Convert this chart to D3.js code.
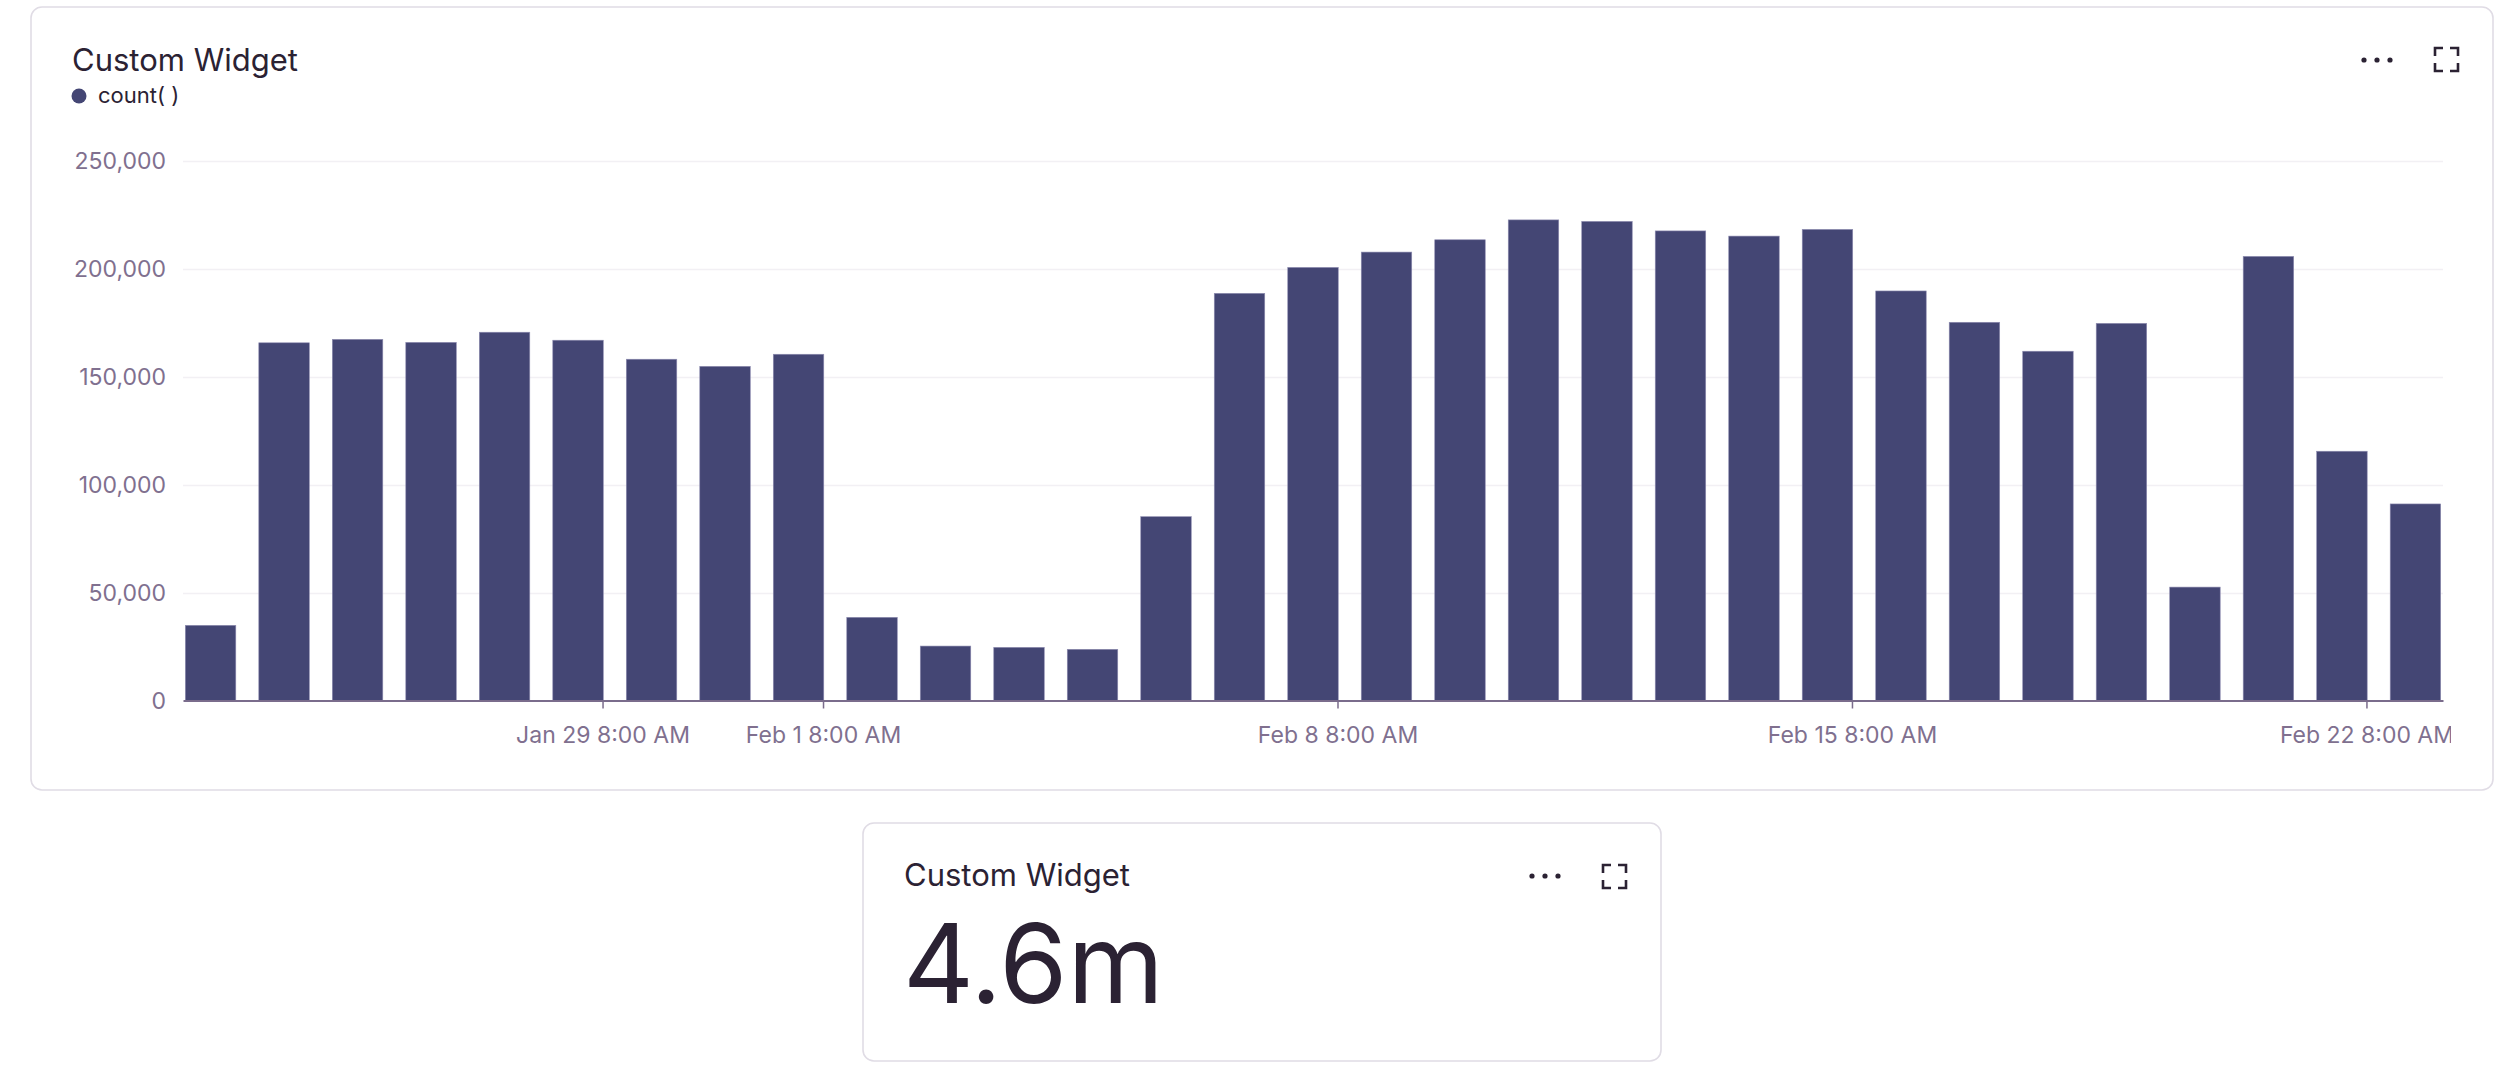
<!DOCTYPE html>
<html>
<head>
<meta charset="utf-8">
<script src="https://cdn.jsdelivr.net/npm/d3@7"></script>
<style>
  html, body { margin: 0; padding: 0; background: #ffffff; }
  svg { display: block; }
  text { font-family: Inter, "Open Sans", "DejaVu Sans", sans-serif; }
</style>
</head>
<body>
<svg id="chart" width="2518" height="1088"></svg>
<script>
// ---- data ----
const dates = [
  "2024-01-24","2024-01-25","2024-01-26","2024-01-27","2024-01-28","2024-01-29",
  "2024-01-30","2024-01-31","2024-02-01","2024-02-02","2024-02-03","2024-02-04",
  "2024-02-05","2024-02-06","2024-02-07","2024-02-08","2024-02-09","2024-02-10",
  "2024-02-11","2024-02-12","2024-02-13","2024-02-14","2024-02-15","2024-02-16",
  "2024-02-17","2024-02-18","2024-02-19","2024-02-20","2024-02-21","2024-02-22",
  "2024-02-23"
];
const counts = [
  34800, 165600, 167200, 165800, 170500, 166800, 158000, 154700, 160300,
  38500, 25200, 24600, 23700, 85100,
  188500, 200500, 207600, 213300, 222500, 221800, 217400, 215000, 218100,
  189600, 175100, 161700, 174600, 52500, 205600, 115400, 91000
];
const xTickValues = [
  "2024-01-29T08:00:00Z","2024-02-01T08:00:00Z","2024-02-08T08:00:00Z",
  "2024-02-15T08:00:00Z","2024-02-22T08:00:00Z"
];
const yTickValues = [0, 50000, 100000, 150000, 200000, 250000];
const seriesName = "count( )";
const widgetTitle = "Custom Widget";

// ---- styles ----
const barColor = "#444674";
const axisText = "#80708F";
const darkText = "#2B2233";
const borderColor = "#E0DCE5";

const svg = d3.select("#chart");

// ---- cards ----
function card(x, y, w, h) {
  svg.append("rect").attr("x", x).attr("y", y).attr("width", w).attr("height", h)
    .attr("rx", 11).attr("fill", "#fff").attr("stroke", borderColor).attr("stroke-width", 1.6);
}
function icons(dotsCx, cy, expandX, expandY) {
  const g = svg.append("g").attr("fill", darkText);
  [-13, 0, 13].forEach(dx => g.append("circle").attr("cx", dotsCx + dx).attr("cy", cy).attr("r", 2.6));
  const s = 23, a = 8;
  const p = d3.path();
  p.moveTo(expandX, expandY + a); p.lineTo(expandX, expandY); p.lineTo(expandX + a, expandY);
  p.moveTo(expandX + s - a, expandY); p.lineTo(expandX + s, expandY); p.lineTo(expandX + s, expandY + a);
  p.moveTo(expandX + s, expandY + s - a); p.lineTo(expandX + s, expandY + s); p.lineTo(expandX + s - a, expandY + s);
  p.moveTo(expandX + a, expandY + s); p.lineTo(expandX, expandY + s); p.lineTo(expandX, expandY + s - a);
  svg.append("path").attr("d", p.toString()).attr("fill", "none")
    .attr("stroke", darkText).attr("stroke-width", 2.6);
}

card(31, 7, 2462, 783);
card(863, 823, 798, 238);

// card 1 header
svg.append("text").attr("x", 72).attr("y", 71).attr("font-size", 31)
  .attr("fill", darkText).text(widgetTitle);
svg.append("circle").attr("cx", 79).attr("cy", 96).attr("r", 7.5).attr("fill", barColor);
svg.append("text").attr("x", 98).attr("y", 103).attr("font-size", 22)
  .attr("fill", darkText).text(seriesName);
icons(2377, 60, 2435, 48);

// ---- chart ----
const parseDay = d3.utcParse("%Y-%m-%d");
const data = dates.map((d, i) => ({ date: parseDay(d), value: counts[i] }));
const day = 864e5;
const x = d3.scaleUtc()
  .domain([new Date(+data[0].date - 0.375 * day), new Date(+data[data.length - 1].date + 0.375 * day)])
  .range([183, 2443]);
const y = d3.scaleLinear().domain([0, 250000]).range([700.5, 160.5]);
const barW = (x(new Date(+data[0].date + day)) - x(data[0].date)) * 0.687;

// gridlines
svg.append("g").selectAll("line").data(yTickValues.filter(v => v > 0)).join("line")
  .attr("x1", x.range()[0]).attr("x2", x.range()[1])
  .attr("y1", d => Math.round(y(d)) + 0.5).attr("y2", d => Math.round(y(d)) + 0.5)
  .attr("stroke", "#F2F0F4").attr("stroke-width", 1.5);

// y labels
svg.append("g").selectAll("text").data(yTickValues).join("text")
  .attr("x", 166).attr("y", d => y(d)).attr("dy", "0.36em")
  .attr("text-anchor", "end").attr("font-size", 23).attr("fill", axisText)
  .text(d => d3.format(",")(d));

// bars
svg.append("g").selectAll("rect").data(data).join("rect")
  .attr("x", d => x(d.date) - barW / 2)
  .attr("y", d => y(d.value))
  .attr("width", barW)
  .attr("height", d => y(0) - y(d.value))
  .attr("fill", barColor)
  .attr("stroke", "#8E8CB0").attr("stroke-width", 0.6);

// x axis (clip in the group's own translated coordinates)
svg.append("defs").append("clipPath").attr("id", "xclip")
  .append("rect").attr("x", 0).attr("y", -10).attr("width", 2451).attr("height", 80);
const xAxis = d3.axisBottom(x)
  .tickValues(xTickValues.map(s => new Date(s)))
  .tickFormat(d3.utcFormat("%b %-d %-I:%M %p"))
  .tickSize(8).tickSizeOuter(0).tickPadding(18);
const ax = svg.append("g").attr("transform", "translate(0,700.5)")
  .attr("clip-path", "url(#xclip)").call(xAxis);
ax.select(".domain").attr("stroke", "#7A6C8C").attr("stroke-width", 2);
ax.selectAll(".tick line").attr("stroke", "#7A6C8C").attr("stroke-width", 1.5);
ax.selectAll(".tick text").attr("fill", axisText).attr("font-size", 23)
  .attr("font-family", "Inter, 'Open Sans', sans-serif");

// ---- card 2 ----
svg.append("text").attr("x", 904).attr("y", 886).attr("font-size", 31)
  .attr("fill", darkText).text(widgetTitle);
icons(1545, 876, 1603, 865);
const total = d3.sum(counts);
svg.append("text").attr("x", 903).attr("y", 1003).attr("font-size", 110)
  .attr("fill", darkText).text((total / 1e6).toFixed(1) + "m");
</script>
</body>
</html>
